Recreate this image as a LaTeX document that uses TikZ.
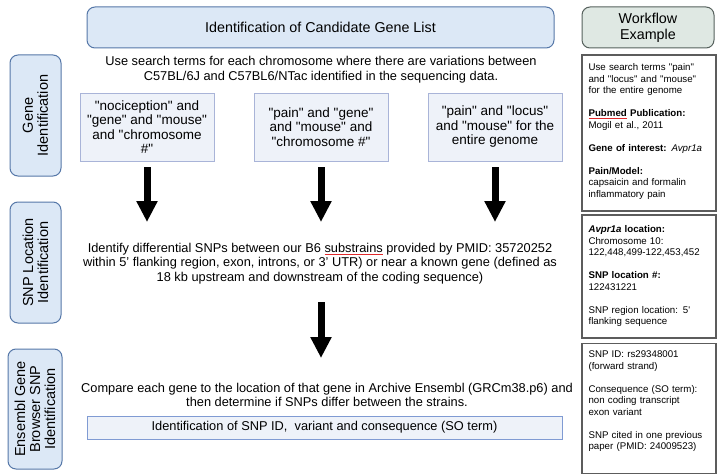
\documentclass[tikz,border=0pt]{standalone}
\usepackage{fontspec}
\setmainfont{Liberation Sans}[Ligatures=TeXOff]
\usepackage{tikz}
\usetikzlibrary{arrows.meta}
\usetikzlibrary{calc}

\definecolor{stepfill}{HTML}{DCE8F6}
\definecolor{stepline}{HTML}{5577A8}
\definecolor{termfill}{HTML}{EEF2F9}
\definecolor{termline}{HTML}{A9B4D8}
\definecolor{idline}{HTML}{809BD3}
\definecolor{wffill}{HTML}{DFE8E3}
\definecolor{wfline}{HTML}{56615D}
\definecolor{exline}{HTML}{5C5C5C}
\definecolor{squigred}{HTML}{E0282A}

\newsavebox{\squigbox}
\newcommand{\squig}[1]{\sbox{\squigbox}{#1}%
	\rlap{\color{squigred}\rule[-2.4pt]{\wd\squigbox}{1.1pt}}#1}

\begin{document}
\begin{tikzpicture}[x=1pt, y=-1pt,
	every node/.style={font=\fontsize{12.8}{14.5}\selectfont, inner sep=0pt},
	stage/.style={draw=stepline, fill=stepfill, line width=1pt, rounded corners=8pt},
	label/.style={rotate=90, align=center, font=\fontsize{14.5}{15}\selectfont},
	term/.style={draw=termline, fill=termfill, line width=0.8pt, align=center,
		font=\fontsize{13.5}{14.5}\selectfont},
	exbox/.style={draw=exline, line width=1.3pt},
	extext/.style={anchor=north west, align=left, text width=125pt,
		font=\fontsize{9.7}{11.5}\selectfont},
	bigarrow/.style={line width=7pt, -{Triangle[width=20pt, length=21pt]}}]
	\useasboundingbox (0,0) rectangle (720,476);
	% headers
	\node[stage, minimum width=467pt, minimum height=41pt,
		font=\fontsize{14.3}{16}\selectfont] (title) at (320.5,27.5)
		{Identification of Candidate Gene List};
	\node[draw=wfline, fill=wffill, line width=1pt, rounded corners=8pt,
		minimum width=132pt, minimum height=41pt, align=center,
		font=\fontsize{14.3}{16}\selectfont] (wf) at (648,27.5)
		{Workflow\\Example};
	% stages on the left
	\node[stage, minimum width=51pt, minimum height=121pt] (gene) at (35.5,115.5) {};
	\node[label] at (gene) {Gene\\Identification};
	\node[stage, minimum width=51pt, minimum height=121pt] (loc) at (35.5,262.5) {};
	\node[label] at (loc) {SNP Location\\Identification};
	\node[stage, minimum width=54pt, minimum height=120pt] (ens) at (35,409) {};
	\node[label] at (ens) {Ensembl Gene\\Browser SNP\\Identification};
	% search terms
	\node[align=center] (search) at (321,69.5)
		{Use search terms for each chromosome where there are variations between\\
		C57BL/6J and C57BL6/NTac identified in the sequencing data.};
	\node[term, minimum width=134pt, minimum height=68pt] (t1) at (147,127)
		{"nociception" and\\"gene" and "mouse"\\and "chromosome\\\#"};
	\node[term, minimum width=134pt, minimum height=68pt] (t2) at (321,127)
		{"pain" and "gene"\\and "mouse" and\\"chromosome \#"};
	\node[term, minimum width=134pt, minimum height=68pt] (t3) at (495,127)
		{"pain" and "locus"\\and "mouse" for the\\entire genome};
	\coordinate (e1) at (147,222);
	\coordinate (e2) at (321,222);
	\coordinate (e3) at (495,222);
	\path[bigarrow, shorten <=6pt]
		(t1) edge (e1)
		(t2) edge (e2)
		(t3) edge (e3);
	% SNP location
	\node[align=center] (snp) at (320,263.5)
		{Identify differential SNPs between our B6 \squig{substrains} provided by PMID: 35720252\\
		within 5’ flanking region, exon, introns, or 3’ UTR) or near a known gene (defined as\\
		18 kb upstream and downstream of the coding sequence)};
	\coordinate (e4) at (321,358);
	\draw[bigarrow, shorten <=18pt] (snp.south -| e4) -- (e4);
	% Ensembl
	\node[align=center] (cmp) at (327,395)
		{Compare each gene to the location of that gene in Archive Ensembl (GRCm38.p6) and\\
		then determine if SNPs differ between the strains.};
	\node[draw=idline, fill=termfill, line width=1pt, minimum width=475pt, minimum height=23pt]
		(out) at (324.5,427.5) {Identification of SNP ID,\ \ variant and consequence (SO term)};
	% workflow example
	\node[exbox, minimum width=134pt, minimum height=156pt] (exa) at (649,133) {};
	\node[extext] at ($(exa.north west)+(7,9)$)
		{Use search terms "pain"\\and "locus" and "mouse"\\for the entire genome\\[11.5pt]
		\textbf{\squig{Pubmed} Publication:}\\Mogil et al., 2011\\[11.5pt]
		\textbf{Gene of interest:} \textit{Avpr1a}\\[11.5pt]
		\textbf{Pain/Model:}\\capsaicin and formalin\\inflammatory pain};
	\node[exbox, minimum width=134pt, minimum height=123pt] (exb) at (649,276.5) {};
	\node[extext] at ($(exb.north west)+(7,11)$)
		{\textbf{\textit{Avpr1a} location:}\\Chromosome 10:\\122,448,499-122,453,452\\[11.5pt]
		\textbf{SNP location \#:}\\122431221\\[11.5pt]
		SNP region location: 5'\\flanking sequence};
	\node[exbox, minimum width=134pt, minimum height=130pt] (exc) at (649,408.5) {};
	\node[extext] at ($(exc.north west)+(7,8)$)
		{SNP ID: rs29348001\\(forward strand)\\[11.5pt]
		Consequence (SO term):\\non coding transcript\\exon variant\\[11.5pt]
		SNP cited in one previous\\paper (PMID: 24009523)};
\end{tikzpicture}
\end{document}
